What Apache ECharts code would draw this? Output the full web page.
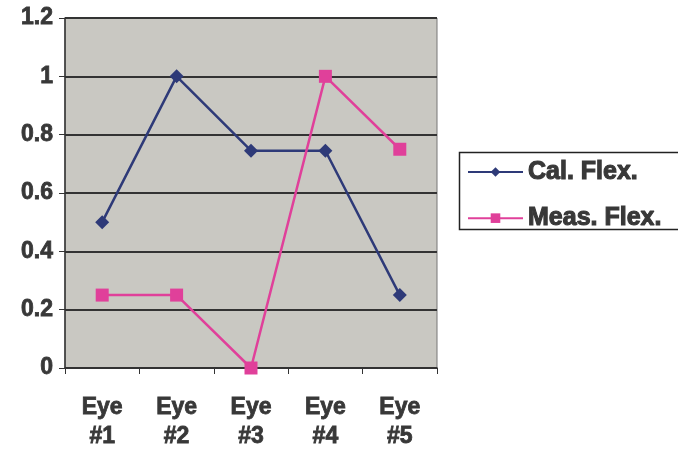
<!DOCTYPE html>
<html>
<head>
<meta charset="utf-8">
<script src="https://cdn.jsdelivr.net/npm/echarts@6/dist/echarts.min.js"></script>
<style>
html, body { margin: 0; padding: 0; background: #fff; }
#chart { width: 678px; height: 450px; }
</style>
</head>
<body>
<div id="chart"></div>
<script>
// categories and values
var eyes = ['Eye\n#1', 'Eye\n#2', 'Eye\n#3', 'Eye\n#4', 'Eye\n#5'];
var calFlex = [0.5, 1, 0.745, 0.745, 0.25];
var measFlex = [0.25, 0.25, 0, 1, 0.75];

var font = '"Liberation Sans", Arial, sans-serif';
var txtColor = '#383838';

var chart = echarts.init(document.getElementById('chart'));
chart.setOption({
	animation: false,
	grid: {
		left: 65,
		top: 18,
		width: 372,
		height: 350,
		outerBoundsMode: 'none',
		containLabel: false,
		show: true,
		backgroundColor: '#c9c8c2',
		borderColor: '#777',
		borderWidth: 1
	},
	// legend frame runs off the right edge like in the original
	graphic: [{
		type: 'rect',
		left: 457,
		top: 150,
		shape: { width: 240, height: 77 },
		style: { fill: 'none', stroke: '#222', lineWidth: 1.5 },
		silent: true
	}],
	legend: {
		orient: 'vertical',
		left: 457,
		top: 150,
		padding: [9, 0, 0, 10],
		itemGap: 20,
		itemWidth: 55,
		itemHeight: 12,
		textStyle: {
			fontFamily: font, fontWeight: 'bold', fontSize: 25, color: txtColor,
			textBorderColor: txtColor, textBorderWidth: 1.1
		},
		data: ['Cal. Flex.', 'Meas. Flex.']
	},
	xAxis: {
		type: 'category',
		data: eyes,
		boundaryGap: true,
		axisLine: { lineStyle: { color: '#333', width: 1.5 } },
		axisTick: { show: true, length: 6, inside: false, lineStyle: { color: '#333' } },
		axisLabel: {
			fontFamily: font, fontWeight: 'bold', fontSize: 23, color: txtColor, lineHeight: 29, margin: 25,
			textBorderColor: txtColor, textBorderWidth: 0.8
		}
	},
	yAxis: {
		type: 'value',
		min: 0,
		max: 1.2,
		interval: 0.2,
		axisLine: { show: true, lineStyle: { color: '#333', width: 1.5 } },
		axisTick: { show: true, length: 6, lineStyle: { color: '#333' } },
		splitLine: { lineStyle: { color: '#333', width: 2 } },
		axisLabel: {
			fontFamily: font, fontWeight: 'bold', fontSize: 23, color: txtColor, margin: 12,
			textBorderColor: txtColor, textBorderWidth: 0.8,
			formatter: function(v) { return String(Math.round(v * 10) / 10); }
		}
	},
	series: [{
		name: 'Cal. Flex.',
		type: 'line',
		data: calFlex,
		symbol: 'diamond',
		symbolSize: 14,
		color: '#2e3a78',
		lineStyle: { width: 2.5, color: '#2e3a78' },
		itemStyle: { color: '#2e3a78' }
	}, {
		name: 'Meas. Flex.',
		type: 'line',
		data: measFlex,
		symbol: 'rect',
		symbolSize: 13,
		color: '#e0409a',
		lineStyle: { width: 2.5, color: '#e0409a' },
		itemStyle: { color: '#e0409a' }
	}]
});
</script>
</body>
</html>
